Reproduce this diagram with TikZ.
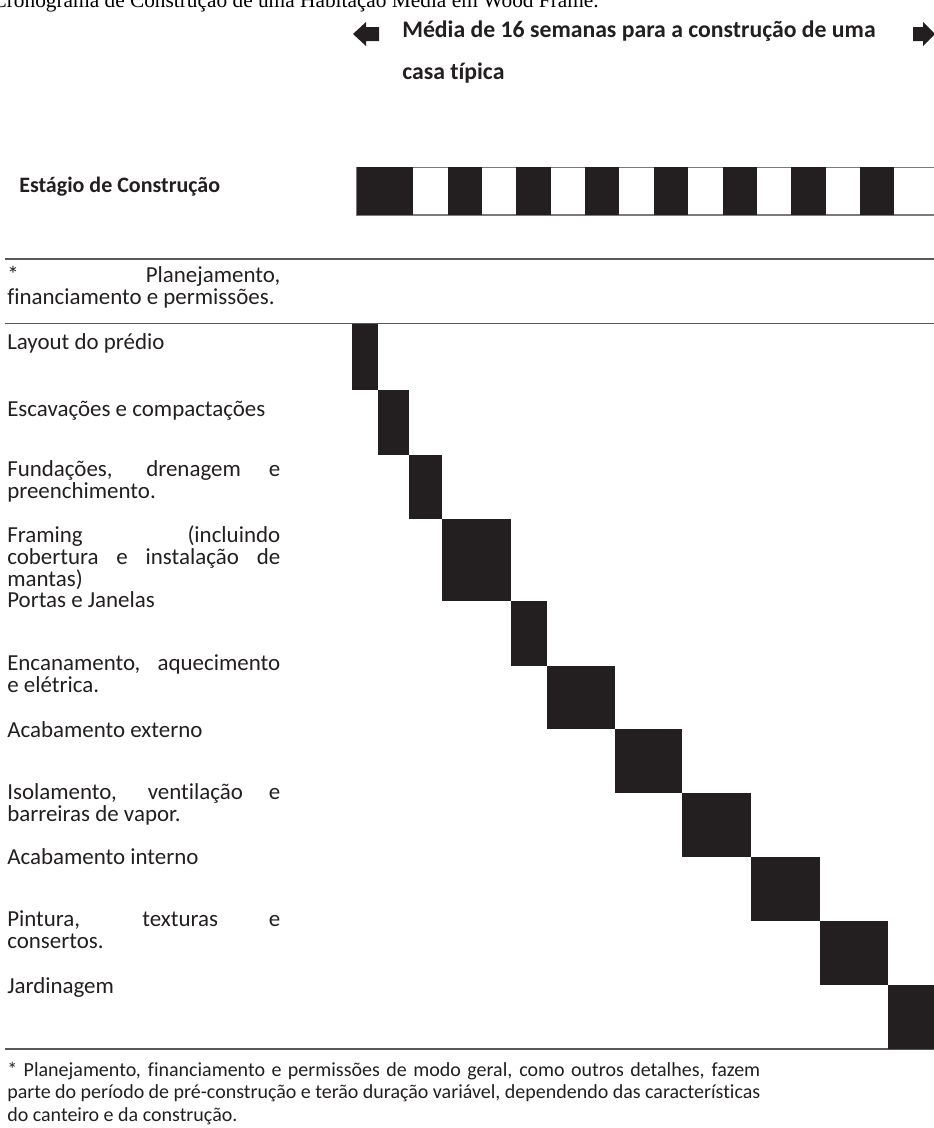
\documentclass[tikz,border=0pt]{standalone}
\usepackage{fontspec}
\setmainfont{Carlito}[RawFeature={-liga}]
\newfontfamily\titulofont{Liberation Serif}
\definecolor{tinta}{HTML}{231F20}

\begin{document}
\begin{tikzpicture}[x=0.75pt, y=-0.75pt,
 rotulo/.style={anchor=base west, inner sep=0pt, text width=204.75pt, align=justify, text=tinta, font=\fontsize{17.2}{16.5}\selectfont},
 negrito/.style={anchor=base west, inner sep=0pt, text=tinta, font=\fontsize{16.5}{16.5}\selectfont\bfseries},
 regua/.style={draw=tinta!75, line width=1.1pt}]
\useasboundingbox (0,0) rectangle (934,1128);

 \node[anchor=base east, inner sep=0pt, font=\titulofont\fontsize{16}{16}\selectfont] (titulo) at (599,7) {Cronograma de Construção de uma Habitação Média em Wood Frame.};
 \node[negrito, font=\fontsize{17.8}{17.8}\selectfont\bfseries] (media) at (402,37) {Média de 16 semanas para a construção de uma};
 \node[negrito, font=\fontsize{17.8}{17.8}\selectfont\bfseries] (casa) at (402,79) {casa típica};
 \fill[tinta] (353,34) -- (366,22) -- (366,27) -- (379,27) -- (379,41) -- (366,41) -- (366,46) -- cycle;
 \fill[tinta] (935,34) -- (923,22) -- (923,27) -- (913,27) -- (913,41) -- (923,41) -- (923,46) -- cycle;

 \node[negrito] (estagio) at (19,192) {Estágio de Construção};
 \draw[draw=tinta!60, line width=0.8pt] (356.7,167.3) rectangle (960,215);
 \fill[tinta] (356.7,167.3) rectangle (413.3,215);
 \foreach \i in {1,3,...,13}
  \fill[tinta] ({413.3+34.36*\i},167.3) rectangle ({413.3+34.36*(\i+1)},215);

 \draw[regua] (5,259) -- (934,259);
 \draw[regua] (5,323.5) -- (934,323.5);
 \draw[regua] (5,1049) -- (934,1049);

 \node[rotulo] (planej) at (7,282) {* Planejamento,\linebreak financiamento e permissões.};
 \node[rotulo] (layout) at (7,349) {Layout do prédio};
 \node[rotulo] (escav) at (7,416) {Escavações e compactações};
 \node[rotulo] (fund) at (7,476) {Fundações, drenagem e\linebreak preenchimento.};
 \node[rotulo] (framing) at (7,542) {Framing (incluindo\linebreak cobertura e instalação de\linebreak mantas)};
 \node[rotulo] (portas) at (7,607) {Portas e Janelas};
 \node[rotulo] (encan) at (7,670) {Encanamento, aquecimento\linebreak e elétrica.};
 \node[rotulo] (acabext) at (7,737) {Acabamento externo};
 \node[rotulo] (isol) at (7,799) {Isolamento, ventilação e\linebreak barreiras de vapor.};
 \node[rotulo] (acabint) at (7,864) {Acabamento interno};
 \node[rotulo] (pintura) at (7,926) {Pintura, texturas e\linebreak consertos.};
 \node[rotulo] (jardim) at (7,993) {Jardinagem};

 %blocos do cronograma
 \foreach \xa/\xb/\ya/\yb in {351.7/378.3/324/390, 377.7/409/390/455.3, 409/442.3/455.3/519,
  442.3/511/519/601, 511/546.5/601/665.7, 546.5/615/665.7/729.3, 614.5/682.3/729.3/792.7,
  682.3/751/792.7/857.3, 751/820/857.3/921, 820/887.7/921/985, 887.7/950/985/1049}
  \fill[tinta] (\xa,\ya) rectangle (\xb,\yb);

 \node[rotulo, text width=564.75pt, font=\fontsize{15}{17.2}\selectfont] (nota) at (7,1076) {* Planejamento, financiamento e permissões de modo geral, como outros detalhes, fazem\linebreak parte do período de pré-construção e terão duração variável, dependendo das características\linebreak do canteiro e da construção.};
\end{tikzpicture}
\end{document}
